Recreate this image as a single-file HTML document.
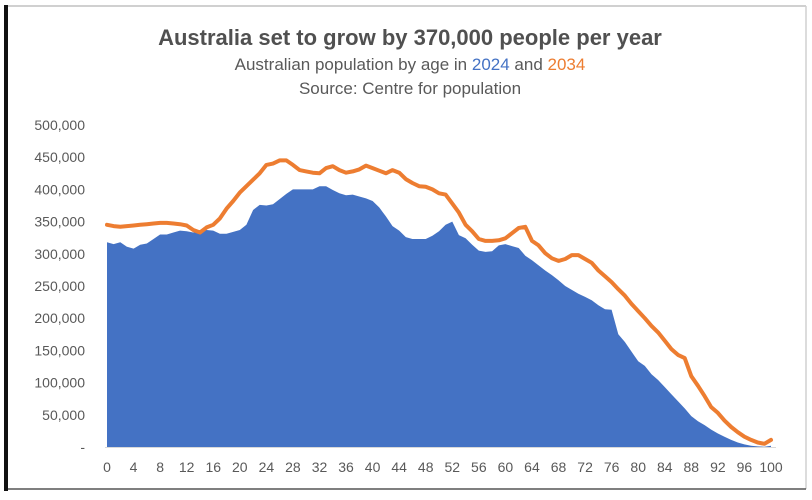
<!DOCTYPE html>
<html><head><style>
body{margin:0;width:812px;height:495px;background:#fff;overflow:hidden;font-family:"Liberation Sans",sans-serif}
</style></head><body>
<svg width="812" height="495" xmlns="http://www.w3.org/2000/svg" id="s">
<rect x="0" y="0" width="812" height="495" fill="#fff"/>
<line x1="8" y1="6" x2="806" y2="6" stroke="#d0d0d0" stroke-width="2"/>
<line x1="806" y1="6" x2="806" y2="489" stroke="#d0d0d0" stroke-width="1.5"/>
<line x1="8" y1="489" x2="806" y2="489" stroke="#555" stroke-width="1.5"/>
<rect x="4" y="5" width="4" height="486" fill="#111"/>
<text x="410" y="45" text-anchor="middle" font-size="22" font-weight="bold" fill="#505050">Australia set to grow by 370,000 people per year</text>
<text x="410" y="70" text-anchor="middle" font-size="17" fill="#595959">Australian population by age in <tspan fill="#4472c4">2024</tspan> and <tspan fill="#ed7d31">2034</tspan></text>
<text x="410" y="94" text-anchor="middle" font-size="17" fill="#595959">Source: Centre for population</text>
<g id="g"></g>
</svg>
<script>
var b=[318,315,318,311,308,314,316,323,330,330,333,336,335,333,336,337,336,331,331,334,337,345,368,376,375,377,385,393,400,400,400,400,405,405,399,394,391,392,389,386,382,372,358,343,336,326,323,323,323,328,335,345,350,329,324,314,305,303,304,313,315,312,309,297,290,282,274,267,259,250,244,238,233,228,220,214,213,175,163,148,133,126,113,104,93,82,71,60,48,40,34,27,21,16,11,7,4,2,1,0.5,2];
var o=[345,343,342,343,344,345,346,347,348,348,347,346,344,337,333,341,345,355,370,382,395,405,415,425,438,440,445,445,438,430,428,426,425,433,436,430,426,428,431,437,433,429,425,430,426,416,410,405,404,400,394,392,378,364,345,335,323,320,320,321,324,332,340,342,320,313,301,293,289,292,298,298,292,286,274,265,256,245,235,222,211,200,188,178,165,152,143,138,110,95,79,62,53,41,31,23,16,11,7,5,11];
function X(a){return 107+a*6.64}function Y(v){return 447-v*0.644}
var h='';
for(var i=0;i<=10;i++){var v=i*50000;h+='<text x="85" y="'+(Y(v/1000)+5)+'" text-anchor="end" font-size="14" fill="#595959">'+(i?v.toLocaleString('en-US'):'-')+'</text>';}
for(var a=0;a<=100;a+=4)h+='<text x="'+X(a)+'" y="472" text-anchor="middle" font-size="14" fill="#595959">'+a+'</text>';
h+='<line x1="105" y1="447.5" x2="776" y2="447.5" stroke="#d9d9d9"/>';
var p='M'+X(0)+' 447';for(i=0;i<=100;i++)p+=' L'+X(i).toFixed(1)+' '+Y(b[i]).toFixed(1);p+=' L'+X(100)+' 447Z';
h+='<path d="'+p+'" fill="#4472c4"/>';
var q='M';for(i=0;i<=100;i++)q+=(i?' L':'')+X(i).toFixed(1)+' '+Y(o[i]).toFixed(1);
h+='<path d="'+q+'" fill="none" stroke="#ed7d31" stroke-width="4" stroke-linejoin="round" stroke-linecap="round"/>';
document.getElementById('g').innerHTML=h;
</script>
</body></html>
